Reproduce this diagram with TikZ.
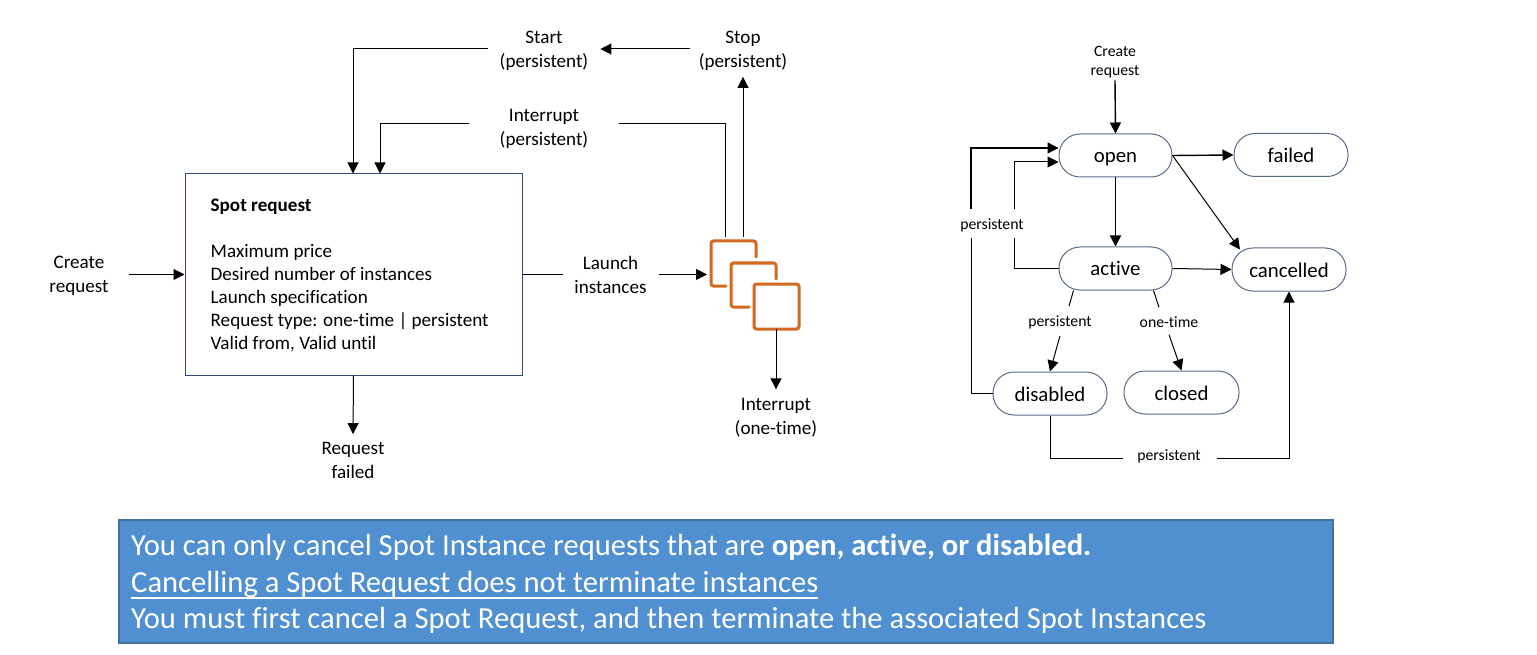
\documentclass[tikz,border=0pt]{standalone}
\usepackage{fontspec}
\setmainfont[Ligatures=NoCommon]{Carlito}
\usetikzlibrary{arrows.meta}
\definecolor{banner}{HTML}{5090D0}
\definecolor{bannerline}{HTML}{41719C}
\definecolor{boxline}{HTML}{2F4B7C}
\definecolor{pillline}{HTML}{5A6B85}
\definecolor{inst}{HTML}{D2691E}
\newcommand\underrule[1]{\setbox0=\hbox{#1}\rlap{\rule[-5.8pt]{\wd0}{1.6pt}}\box0}
\tikzset{
  x=1pt,y=-1pt,
  lbl/.style={align=center,inner sep=0pt,font=\fontsize{19.1}{24}\selectfont},
  small/.style={align=center,inner sep=0pt,font=\fontsize{15.75}{19.5}\selectfont},
  state/.style={draw=pillline,line width=1pt,rounded corners=21pt,minimum width=#1,minimum height=43pt,inner sep=0pt,text height=15pt,text depth=0pt,font=\fontsize{20.8}{22}\selectfont},
  state/.default=113pt,
  conn/.style={draw=black,line width=1pt},
  arr/.style={conn,-{Triangle[length=11pt,width=11pt]}},
  heavy/.style={line width=1.4pt},
  instbox/.style={draw=inst,line width=3pt,rounded corners=2.5pt,line cap=round},
  bantext/.style={anchor=west,text=white,inner sep=0pt,font=\fontsize{30.6}{34}\selectfont}
}
\begin{document}
\begin{tikzpicture}
\useasboundingbox (0,0) rectangle (1537,655);
% left block
\node[draw=boxline,line width=1pt,minimum width=337pt,minimum height=201pt,inner sep=0pt] (spot) at (353.5,274.5) {};
\node[anchor=north west,align=left,inner sep=0pt,font=\fontsize{19.1}{23}\selectfont] (spottext) at (210.5,199)
 {\textbf{Spot request}\\[23pt]Maximum price\\Desired number of instances\\Launch specification\\Request type: one-time | persistent\\Valid from, Valid until};
\node[lbl] (create) at (79,276) {Create\\request};
\node[lbl] (start) at (544,51) {Start\\(persistent)};
\node[lbl] (stop) at (743,51) {Stop\\(persistent)};
\node[lbl] (intp) at (544,129) {Interrupt\\(persistent)};
\node[lbl] (launch) at (610.5,274.5) {Launch\\instances};
\node[lbl] (failedreq) at (353,460.5) {Request\\failed};
\node[lbl] (into) at (776,418) {Interrupt\\(one-time)};
% instances
\coordinate (instA) at (725,237);
\coordinate (instB) at (743,237);
\coordinate (instin) at (707,274.5);
\coordinate (instout) at (776,329);
\draw[instbox] (726,286) -- (711,286) -- (711,241) -- (756,241) -- (756,257);
\draw[instbox] (749,307) -- (731,307) -- (731,263) -- (776,263) -- (776,279);
\draw[instbox] (754,284) rectangle (799,329);
% left connectors
\draw[arr] ([xshift=-9pt,yshift=2pt]stop.west) -- ([xshift=12pt,yshift=2pt]start.east);
\draw[arr] ([xshift=-12pt,yshift=2pt]start.west) -| ([xshift=-0.5pt]spot.north);
\draw[arr] ([xshift=-31pt,yshift=5pt]intp.west) -| ([xshift=26.5pt]spot.north);
\draw[conn] ([xshift=31pt,yshift=5pt]intp.east) -| (instA);
\draw[arr] (instB) -- ([yshift=-6pt]stop.south);
\draw[arr] ([xshift=20pt,yshift=1.5pt]create.east) -- (spot.west);
\draw[conn] (spot.east) -- ([xshift=-11pt]launch.west);
\draw[arr] ([xshift=12pt]launch.east) -- (instin);
\draw[arr] (spot.south) -- ([yshift=8pt]failedreq.north);
\draw[arr] (instout) -- ([yshift=9pt]into.north);
% state diagram
\node[state] (open) at (1115.5,155.5) {open};
\node[state=114pt] (failed) at (1291,155) {failed};
\node[state] (active) at (1115.5,268.5) {active};
\node[state=114pt] (cancelled) at (1289,269.5) {cancelled};
\node[state=114pt] (disabled) at (1050,393.5) {disabled};
\node[state=115pt] (closed) at (1181.5,392.5) {closed};
\node[small] (screate) at (1115,62) {Create\\request};
\node[small] (plbl) at (992,225) {persistent};
\node[small] (pdis) at (1060,322) {persistent};
\node[small] (otime) at (1169,322) {one-time};
\node[small] (pbot) at (1169,456) {persistent};
\draw[arr,heavy] ([yshift=-2pt]screate.south) -- (open.north);
\draw[arr,heavy] (open.south) -- (active.north);
\draw[arr,heavy] (open.east) -- (failed.west);
\draw[arr] (open.east) -- ([xshift=-49pt,yshift=-2pt]cancelled.north);
\draw[arr] (active.east) -- (cancelled.west);
\draw[conn] ([xshift=-42pt]active.south) -- ([xshift=9pt,yshift=9pt]pdis.north);
\draw[arr] ([yshift=-7pt]pdis.south) -- (disabled.north);
\draw[conn] ([xshift=38pt]active.south) -- ([xshift=-10pt,yshift=9pt]otime.north);
\draw[arr] ([yshift=-7pt]otime.south) -- (closed.north);
\draw[conn] (disabled.west) -| ([xshift=-21pt,yshift=-6pt]plbl.south);
\draw[arr,heavy] ([xshift=-21pt,yshift=9pt]plbl.north) |- ([yshift=7.5pt]open.west);
\draw[conn] (active.west) -| ([xshift=22pt,yshift=-6pt]plbl.south);
\draw[arr] ([xshift=22pt,yshift=9pt]plbl.north) |- ([yshift=-6.5pt]open.west);
\draw[conn] (disabled.south) |- ([xshift=-14pt,yshift=-2pt]pbot.west);
\draw[arr] ([xshift=16pt,yshift=-2pt]pbot.east) -| (cancelled.south);
% banner
\node[draw=bannerline,fill=banner,line width=1.5pt,minimum width=1214pt,minimum height=123pt,inner sep=0pt] (ban) at (726,581.5) {};
\node[bantext] (l1) at (131,547) {You can only cancel Spot Instance requests that are \textbf{open, active, or disabled.}};
\node[bantext] (l2) at (131,585) {\underrule{Cancelling a Spot Request does not terminate instances}};
\node[bantext] (l3) at (131,620) {You must first cancel a Spot Request, and then terminate the associated Spot Instances};
\end{tikzpicture}
\end{document}
